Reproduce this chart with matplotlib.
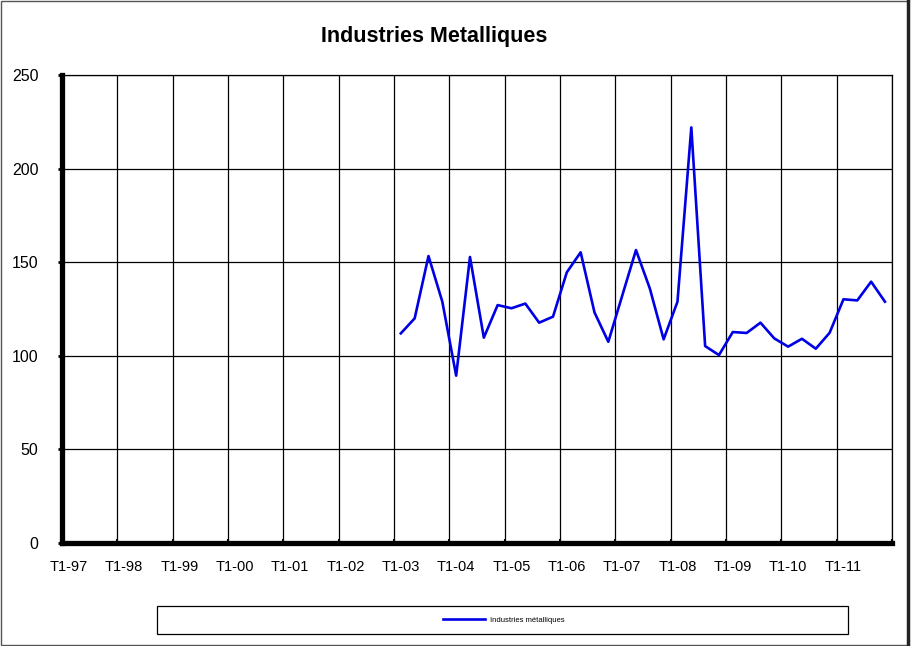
# Industries Metalliques - quarterly index, Excel-style line chart
import numpy as np
import matplotlib
matplotlib.use('Agg')
import matplotlib.pyplot as plt
from matplotlib.patches import Rectangle
from matplotlib.lines import Line2D

plt.rcParams['font.family'] = ['Liberation Sans', 'DejaVu Sans']

# data
years = ['97', '98', '99', '00', '01', '02', '03', '04', '05', '06', '07', '08', '09', '10', '11']
quarters = ['T%d-%s' % (q, y) for y in years for q in (1, 2, 3, 4)]
year_labels = ['T1-' + y for y in years]
first_quarter = 'T1-03'
values = [112.0, 120.0, 153.3, 128.9,
          89.4, 152.8, 109.7, 127.1,
          125.4, 127.9, 117.7, 120.9,
          144.6, 155.3, 123.2, 107.5,
          132.0, 156.5, 136.0, 108.8,
          128.9, 222.0, 105.2, 100.4,
          112.7, 112.2, 117.7, 109.3,
          104.9, 109.1, 103.8, 112.3,
          130.2, 129.6, 139.6, 128.9]
series_name = 'Industries métalliques'
y_ticks = [0, 50, 100, 150, 200, 250]

start = quarters.index(first_quarter)
x = np.arange(start, start + len(values)) + 0.5

fig = plt.figure(figsize=(9.11, 6.46), dpi=100)
ax = fig.add_axes([0.068, 0.1594, 0.911, 0.7245])

ax.plot(x, values, color='#0000e6', linewidth=1.9, zorder=3)

ax.set_xlim(0, len(quarters))
ax.set_ylim(0, 250)
ax.set_yticks(y_ticks)
# gridlines at year boundaries, labels under first quarter of each year
ax.set_xticks(np.arange(0, len(quarters) + 1, 4), minor=False)
ax.set_xticklabels([''] * len(ax.get_xticks()))
ax.set_xticks(np.arange(0, len(quarters), 4) + 0.5, minor=True)
ax.set_xticklabels(year_labels, minor=True)
ax.tick_params(axis='x', which='minor', length=0, pad=12, labelsize=10.5)
ax.tick_params(axis='x', which='major', length=3, width=1.5, direction='in', color='black')
ax.tick_params(axis='y', length=3, width=2, pad=14, labelsize=11.5, colors='black')
ax.grid(True, which='major', color='black', linewidth=0.9)

for s in ['top', 'right']:
    ax.spines[s].set_linewidth(0.9)
for s in ['left', 'bottom']:
    ax.spines[s].set_linewidth(3.8)
    ax.spines[s].set_capstyle('projecting')

fig.text(0.477, 0.943, 'Industries Metalliques', ha='center', va='center',
         fontsize=15.5, fontweight='bold')

# legend box
fig.patches.append(Rectangle((0.172, 0.0186), 0.759, 0.0433, transform=fig.transFigure,
                             facecolor='white', edgecolor='black', linewidth=0.9))
handle = Line2D([], [], color='#0000e6', linewidth=1.9)
fig.legend([handle], [series_name], loc='center', bbox_to_anchor=(0.553, 0.0403),
           frameon=False, fontsize=5.5, handlelength=5.5, handletextpad=0.6)

# outer chart frame
fig.patches.append(Rectangle((0.001, 0.002), 0.996, 0.996, transform=fig.transFigure,
                             facecolor='none', edgecolor='#555555', linewidth=1))
fig.lines.append(Line2D([0.997, 0.997], [0.0, 1.0], transform=fig.transFigure,
                        color='#222222', linewidth=2.5))

fig.savefig('out.png', dpi=100)
